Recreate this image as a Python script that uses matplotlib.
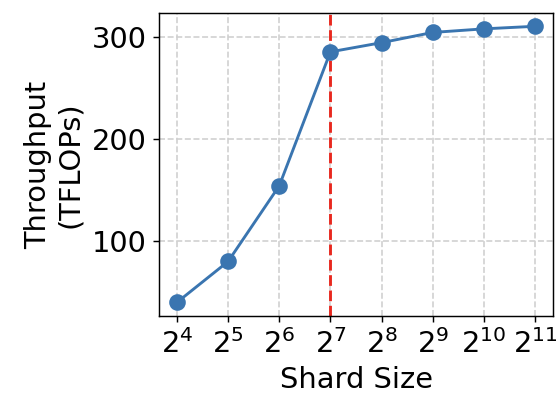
import numpy as np
import matplotlib
matplotlib.use("Agg")
import matplotlib.pyplot as plt

shard_sizes = [2**4, 2**5, 2**6, 2**7, 2**8, 2**9, 2**10, 2**11]
throughput = [40, 80, 154, 285, 294, 304, 307.5, 310]
knee = 2**7

DPI = 130
fig = plt.figure(figsize=(559 / DPI, 393 / DPI), dpi=DPI)
ax = fig.add_axes([159 / 559, 1 - 316 / 393, (553 - 159) / 559, (316 - 13) / 393])

ax.plot(shard_sizes, throughput, color="#3a75b0", lw=1.6, marker="o", ms=8.2, zorder=3)
ax.axvline(knee, color="#e8281e", ls="--", lw=1.6, zorder=2)

ax.set_xscale("log", base=2)
ax.set_xticks(shard_sizes)
ax.set_xticklabels([f"$2^{{{int(np.log2(s))}}}$" for s in shard_sizes])
ax.minorticks_off()
ax.set_yticks([100, 200, 300])
ax.set_ylim(26.7, 323)

ax.grid(True, ls="--", color="#d0d0d0", lw=0.9)
ax.tick_params(labelsize=16)
ax.set_xlabel("Shard Size", fontsize=16)
ax.set_ylabel("Throughput\n(TFLOPs)", fontsize=16)

fig.savefig("out.png", dpi=DPI)
